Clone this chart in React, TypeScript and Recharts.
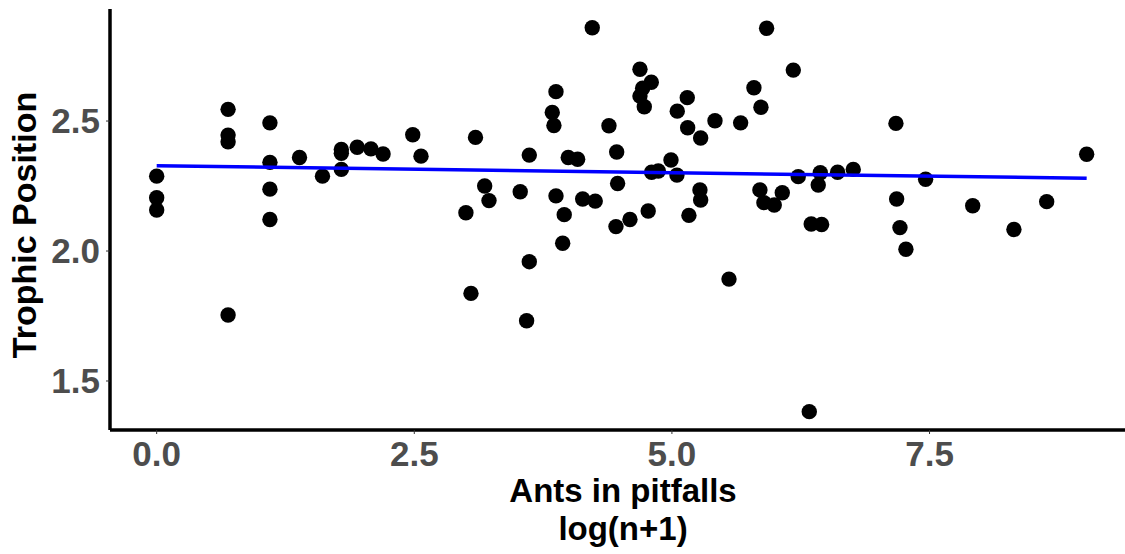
import { ScatterChart, Scatter, XAxis, YAxis } from "recharts";

// ants in pitfalls, log(n+1)
const antsLog = [
  0, 0, 0, 0.693, 0.693, 0.693, 0.693, 1.099, 1.099, 1.099, 1.099, 1.386, 1.609,
  1.792, 1.792, 1.792, 1.946, 2.079, 2.197, 2.485, 2.565,
  3.001, 3.05, 3.094, 3.183, 3.225, 3.528, 3.59, 3.616, 3.616, 3.839, 3.855,
  3.875, 3.875, 3.94, 3.955, 3.994, 4.085, 4.134, 4.256, 4.227, 4.389, 4.457,
  4.464, 4.473, 4.593, 4.69, 4.69, 4.716, 4.732, 4.77, 4.8, 4.803, 4.868, 4.991,
  5.049, 5.052, 5.149, 5.153, 5.165, 5.272, 5.279, 5.279, 5.418, 5.554, 5.667,
  5.796, 5.854, 5.864, 5.893, 5.919, 5.993, 6.071, 6.178, 6.226, 6.333, 6.352,
  6.453, 6.44, 6.42, 6.608, 6.76, 7.174, 7.181, 7.213, 7.271, 7.462, 7.919,
  8.319, 8.637, 9.025,
];

const trophicPos = [
  2.288, 2.205, 2.158, 2.545, 2.446, 2.42, 1.754, 2.493, 2.341, 2.238, 2.121,
  2.36, 2.288, 2.391, 2.376, 2.314, 2.399, 2.393, 2.373, 2.447, 2.365,
  2.147, 1.837, 2.437, 2.25, 2.194, 2.228, 1.732, 2.369, 1.959, 2.533, 2.483,
  2.613, 2.212, 2.03, 2.14, 2.36, 2.353, 2.2, 2.192, 2.859, 2.482, 2.094,
  2.381, 2.26, 2.121, 2.699, 2.596, 2.626, 2.555, 2.154, 2.649, 2.303, 2.308,
  2.35, 2.292, 2.538, 2.59, 2.474, 2.137, 2.235, 2.196, 2.435, 2.501, 1.892,
  2.493, 2.628, 2.235, 2.553, 2.186, 2.857, 2.177, 2.224, 2.696, 2.286, 1.382,
  2.104, 2.102, 2.301, 2.254, 2.303, 2.314, 2.491, 2.2, 2.09, 2.007, 2.276,
  2.174, 2.083, 2.19, 2.372,
];

// linear fit endpoints
const fitX = [0, 9.025];
const fitY = [2.328, 2.28];

const xTicks = [0, 2.5, 5, 7.5];
const yTicks = [1.5, 2.0, 2.5];

const points = antsLog.map((x, i) => ({ x, y: trophicPos[i] }));
const fitLine = fitX.map((x, i) => ({ x, y: fitY[i] }));

const FONT = "'Liberation Sans', Arial, Helvetica, sans-serif";

const Dot = (props: any) => (
  <circle cx={props.cx} cy={props.cy} r={7.7} fill="#000000" />
);

const NoDot = () => <g />;

const XTick = (props: any) => (
  <text
    x={props.x}
    y={props.y}
    dy={26}
    textAnchor="middle"
    fontFamily={FONT}
    fontWeight="bold"
    fontSize={35}
    fill="#4d4d4d"
  >
    {Number(props.payload.value).toFixed(1)}
  </text>
);

const YTick = (props: any) => (
  <text
    x={props.x}
    y={props.y}
    dy={12.3}
    textAnchor="end"
    fontFamily={FONT}
    fontWeight="bold"
    fontSize={35}
    fill="#4d4d4d"
  >
    {Number(props.payload.value).toFixed(1)}
  </text>
);

export default function App() {
  return (
    <div style={{ position: "absolute", left: 0, top: 0, background: "#fff" }}>
      <ScatterChart
        width={1125}
        height={554}
        margin={{ top: 9, right: 0, left: 0, bottom: 0 }}
      >
        <XAxis
          type="number"
          dataKey="x"
          domain={[-0.453, 9.397]}
          ticks={xTicks}
          tick={<XTick />}
          tickSize={4}
          tickMargin={6}
          height={124}
          axisLine={{ stroke: "#000", strokeWidth: 3.5 }}
          tickLine={{ stroke: "#333", strokeWidth: 1 }}
          interval={0}
        />
        <YAxis
          type="number"
          dataKey="y"
          domain={[1.3115, 2.931]}
          ticks={yTicks}
          tick={<YTick />}
          tickSize={4}
          tickMargin={6}
          width={110}
          axisLine={{ stroke: "#000", strokeWidth: 3.5 }}
          tickLine={{ stroke: "#333", strokeWidth: 1 }}
          interval={0}
        />
        <Scatter data={points} shape={<Dot />} isAnimationActive={false} />
        <Scatter
          data={fitLine}
          shape={<NoDot />}
          line={{ stroke: "#0000ff", strokeWidth: 3.5 }}
          isAnimationActive={false}
        />
        <text
          x={36}
          y={225}
          transform="rotate(-90, 36, 225)"
          textAnchor="middle"
          fontFamily={FONT}
          fontWeight="bold"
          fontSize={34}
          fill="#000"
        >
          Trophic Position
        </text>
        <text
          x={623}
          y={502}
          textAnchor="middle"
          fontFamily={FONT}
          fontWeight="bold"
          fontSize={33}
          fill="#000"
        >
          Ants in pitfalls
        </text>
        <text
          x={623}
          y={540}
          textAnchor="middle"
          fontFamily={FONT}
          fontWeight="bold"
          fontSize={33}
          fill="#000"
        >
          log(n+1)
        </text>
      </ScatterChart>
    </div>
  );
}
